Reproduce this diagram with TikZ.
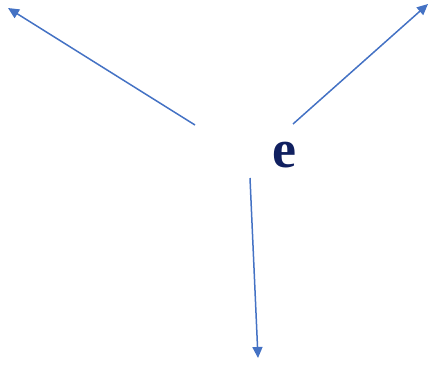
\documentclass[tikz,border=0pt]{standalone}
\usepackage{fontspec}
\setmainfont{Liberation Serif}
\usetikzlibrary{arrows.meta}
\definecolor{arrowblue}{HTML}{4472C4}
\definecolor{navy}{HTML}{102060}
\tikzset{
  vec/.style={draw=arrowblue, line width=1.5pt, -{Triangle[length=11pt,width=10pt]}},
  lbl/.style={font=\fontsize{54}{54}\selectfont\bfseries, text=navy, inner sep=0pt}
}
\begin{document}
\begin{tikzpicture}[x=1pt,y=1pt]
\useasboundingbox (0,0) rectangle (431,365);
\node[lbl] (e) at (284,210) {e};
\coordinate (s1) at (195,240);
\coordinate (t1) at (8,357);
\coordinate (s2) at (293,241);
\coordinate (t2) at (428,361);
\coordinate (s3) at (250,187);
\coordinate (t3) at (258,7);
\draw[vec] (s1) -- (t1);
\draw[vec] (s2) -- (t2);
\draw[vec] (s3) -- (t3);
\end{tikzpicture}
\end{document}
